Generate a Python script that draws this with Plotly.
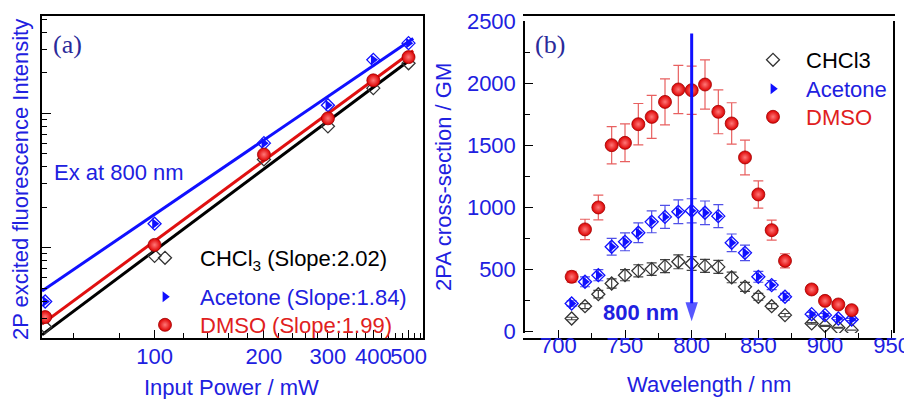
import numpy as np
import plotly.graph_objects as go

# ---------------- Panel (a): power dependence ----------------
power_mw = [50, 100, 200, 300, 400, 500]
fl_chcl3 = [257, 870, 4540, 8000, 15400, 23600]
fl_acetone = [398, 1510, 6000, 11500, 25000, 33300]
fl_dmso = [305, 1050, 4940, 9180, 17600, 26200]
fit_names = ["CHCl3", "Acetone", "DMSO"]
fit_slopes = [2.02, 1.84, 1.99]
fit_log_at50 = [2.37, 2.694, 2.45]
fit_x = [49, 515]

# ---------------- Panel (b): 2PA spectra ----------------
wavelength = [710, 720, 730, 740, 750, 760, 770, 780, 790, 800, 810, 820,
              830, 840, 850, 860, 870, 890, 900, 910, 920]
tpa_chcl3 = [102, 201, 298, 384, 451, 486, 500, 524, 559, 545, 526, 518,
             433, 357, 277, 201, 129, 62, 43, 27, 8]
err_chcl3 = [10, 20, 30, 38, 45, 49, 50, 52, 56, 55, 53, 52,
             43, 36, 28, 20, 13, 6, 4, 3, 1]
tpa_acetone = [223, 398, 451, 680, 720, 793, 881, 921, 962, 970, 954, 927,
               712, 631, 438, 371, 277, 137, 129, 102, 94]
err_acetone = [22, 40, 45, 68, 72, 79, 88, 92, 96, 97, 95, 93,
               71, 63, 44, 37, 28, 14, 13, 10, 9]
tpa_dmso = [438, 820, 997, 1499, 1518, 1668, 1727, 1848, 1948, 1942, 1988, 1768,
            1674, 1400, 1102, 814, 567, 336, 244, 215, 169]
err_dmso = [44, 82, 100, 150, 152, 167, 173, 185, 195, 194, 199, 177,
            167, 140, 110, 81, 57, 34, 24, 22, 17]
arrow_x = [800, 800]
arrow_y = [2400, 80]

BLUE = "#2020e0"
BLUE_LINE = "#1010ff"
RED = "#e01010"
BLACK = "#000000"
FONT = "Liberation Sans, Arial, sans-serif"
SERIF = "Liberation Serif, Times New Roman, serif"
OFF = 8  # page body margin of the html page
W, H = 912 - OFF, 399 - OFF


def px(xp):
    return (xp - OFF) / W


def py(yp):
    return (H - (yp - OFF)) / H


fig = go.Figure()

# fit lines (panel a)
line_colors = [BLACK, BLUE_LINE, RED]
for slope, b, col in zip(fit_slopes, fit_log_at50, line_colors):
    lx = np.array(fit_x, dtype=float)
    ly = 10 ** (b + slope * (np.log10(lx) - np.log10(50)))
    fig.add_trace(go.Scatter(x=lx, y=ly, mode="lines", line=dict(color=col, width=3),
                             showlegend=False, hoverinfo="skip", xaxis="x", yaxis="y"))

dmso_marker = dict(symbol="circle", size=13, color="#dd0000",
                   gradient=dict(type="radial", color="#ff7878"),
                   line=dict(width=0.8, color="#a00000"))
chcl3_marker = dict(symbol="diamond-open", size=10, color="#333333", line=dict(width=1.3))
acet_open = dict(symbol="diamond-open", size=10, color=BLUE_LINE, line=dict(width=1.3))
acet_fill = dict(symbol="triangle-right", size=9.5, color=BLUE_LINE, line=dict(width=0))

# markers panel a
fig.add_trace(go.Scatter(x=power_mw, y=fl_chcl3, mode="markers",
                         name="<span style='color:#000000'>CHCl<sub>3</sub> (Slope:2.02)</span>",
                         marker=chcl3_marker, xaxis="x", yaxis="y", legend="legend"))
fig.add_trace(go.Scatter(x=power_mw, y=fl_acetone, mode="markers", showlegend=False,
                         marker=acet_open, xaxis="x", yaxis="y"))
fig.add_trace(go.Scatter(x=power_mw, y=fl_acetone, mode="markers",
                         name="<span style='color:#2020e0'>Acetone (Slope:1.84)</span>",
                         marker=acet_fill, xaxis="x", yaxis="y", legend="legend3"))
fig.add_trace(go.Scatter(x=power_mw, y=fl_dmso, mode="markers",
                         name="<span style='color:#e02020'>DMSO (Slope:1.99)</span>",
                         marker=dmso_marker, xaxis="x", yaxis="y", legend="legend4"))

# panel b
fig.add_trace(go.Scatter(x=wavelength, y=tpa_chcl3, mode="markers", name="CHCl3",
                         error_y=dict(type="data", array=err_chcl3, color="#444444", thickness=1.2, width=5),
                         marker=chcl3_marker, xaxis="x2", yaxis="y2", legend="legend2"))
fig.add_trace(go.Scatter(x=wavelength, y=tpa_acetone, mode="markers", showlegend=False,
                         error_y=dict(type="data", array=err_acetone, color="#5050e8", thickness=1.2, width=5),
                         marker=acet_open, xaxis="x2", yaxis="y2"))
fig.add_trace(go.Scatter(x=wavelength, y=tpa_acetone, mode="markers",
                         name="<span style='color:#2020e0'>Acetone</span>",
                         marker=acet_fill, xaxis="x2", yaxis="y2", legend="legend5"))
fig.add_trace(go.Scatter(x=wavelength, y=tpa_dmso, mode="markers",
                         name="<span style='color:#e02020'>DMSO</span>",
                         error_y=dict(type="data", array=err_dmso, color="#e86060", thickness=1.2, width=5),
                         marker=dmso_marker, xaxis="x2", yaxis="y2", legend="legend6"))
# 800 nm arrow
fig.add_trace(go.Scatter(x=arrow_x, y=arrow_y, mode="lines+markers", showlegend=False,
                         hoverinfo="skip", line=dict(color=BLUE_LINE, width=3),
                         marker=dict(symbol=["circle", "arrow"], size=[0, 20], color=BLUE_LINE,
                                     angleref="previous", line=dict(width=0)),
                         xaxis="x2", yaxis="y2"))

axis_common = dict(showline=True, linecolor="black", linewidth=1.5, mirror=True,
                   showgrid=False, zeroline=False, ticks="inside", tickcolor="black",
                   tickfont=dict(family=FONT, size=22, color=BLUE), tickangle=0,
                   automargin=False)


def leg(left, top, itemwidth):
    return dict(x=px(left), y=py(top), xanchor="left", yanchor="top", bgcolor="rgba(0,0,0,0)",
                font=dict(family=FONT, size=22, color=BLACK), itemwidth=itemwidth)


fig.update_layout(
    width=W, height=H, margin=dict(l=0, r=0, t=0, b=0, autoexpand=False),
    paper_bgcolor="white", plot_bgcolor="white",
    font=dict(family=FONT, size=22, color=BLUE),
    xaxis=dict(axis_common, type="log", domain=[px(42), px(423)],
               range=[np.log10(49), np.log10(548)],
               tickmode="array", tickvals=[100, 200, 300, 400, 500],
               ticktext=["100", "200", "300", "400", "500"],
               ticklen=8, tickwidth=1.3, ticklabelstandoff=-2,
               minor=dict(ticks="inside", dtick="L20", tick0=0, ticklen=5, tickcolor="black", tickwidth=1)),
    yaxis=dict(axis_common, type="log", domain=[py(338), py(16)],
               range=[np.log10(213), np.log10(53000)],
               tickmode="array", tickvals=[1000, 10000], showticklabels=False,
               ticklen=9, tickwidth=1.3,
               minor=dict(ticks="inside", dtick="D1", ticklen=5, tickcolor="black", tickwidth=1)),
    xaxis2=dict(axis_common, domain=[px(525), px(893)], range=[675, 951],
                tick0=700, dtick=50, ticklen=8, tickwidth=1.3, ticklabelstandoff=-13,
                minor=dict(ticks="inside", dtick=25, ticklen=5, tickcolor="black", tickwidth=1)),
    yaxis2=dict(axis_common, anchor="x2", domain=[py(333), py(21)], range=[-15, 2500],
                tick0=0, dtick=500, ticklen=8, tickwidth=1.3, ticklabelstandoff=3,
                minor=dict(ticks="inside", dtick=250, ticklen=5, tickcolor="black", tickwidth=1)),
    legend=leg(130, 237, 60),
    legend3=leg(130, 276, 60),
    legend4=leg(130, 304, 60),
    legend2=leg(740, 39, 56),
    legend5=leg(740, 68, 56),
    legend6=leg(740, 96, 56),
)


def ann(text, x, y, size=22, family=FONT, color=BLUE, angle=0, xanchor="center"):
    return dict(text=text, x=px(x), y=py(y), xref="paper", yref="paper", xanchor=xanchor,
                yanchor="middle", textangle=angle, showarrow=False,
                font=dict(family=family, size=size, color=color))


annotations = [
    ann("2P excited fluorescence Intensity", 20, 180, angle=-90),
    ann("Input Power / mW", 231, 387),
    ann("2PA cross-section / GM", 443, 177, angle=-90),
    ann("Wavelength / nm", 709, 384),
    ann("(a)", 67, 45, size=26, family=SERIF, color="#2a2a9a"),
    ann("(b)", 550, 45, size=26, family=SERIF, color="#2a2a9a"),
    ann("Ex at 800 nm", 52, 172, xanchor="left"),
    dict(text="<b>800 nm</b>", x=762, y=150, xref="x2", yref="y2", xanchor="center",
         yanchor="middle", showarrow=False, font=dict(family=FONT, size=22, color=BLUE)),
]
fig.update_layout(annotations=annotations)

fig.write_html("out.html")
